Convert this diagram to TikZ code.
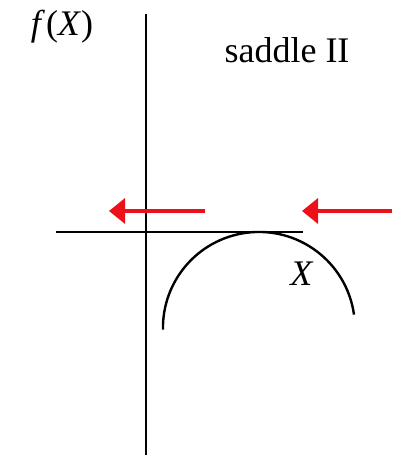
\documentclass[tikz,border=0pt]{standalone}
\usepackage{fontspec}
\setmainfont{Liberation Serif}
\usetikzlibrary{arrows.meta,positioning}
\definecolor{pushred}{HTML}{EC1018}

\begin{document}
\begin{tikzpicture}[x=1pt, y=1pt,
  ax/.style={line width=2.4pt},
  push/.style={pushred, line width=3.5pt, -{Triangle[length=16pt, width=25pt]}},
  lbl/.style={font=\fontsize{36}{42}\selectfont, inner sep=0pt}]
\useasboundingbox (0,0) rectangle (392,455);
\coordinate (ytop) at (146,441);
\coordinate (ybot) at (146,0);
\coordinate (xl) at (56,223);
\coordinate (xr) at (303,223);
\draw[ax] (ytop) -- (ybot);
\draw[ax] (xl) -- (xr);
\draw[ax] (354,140.4) arc[start angle=8, end angle=181, radius=96];
\node[lbl] (fx) at (62,428) {\textit{f}\kern1pt(\textit{X})};
\node[lbl] (name) at (287,405) {saddle II};
\node[lbl] (xlab) at (302,181) {\textit{X}};
% red arrows
\coordinate (a1) at (205,244);
\coordinate (t1) at (109,244);
\coordinate (a2) at (392,244);
\coordinate (t2) at (302,244);
\draw[push] (a1) -- (t1);
\draw[push] (a2) -- (t2);
\end{tikzpicture}
\end{document}
